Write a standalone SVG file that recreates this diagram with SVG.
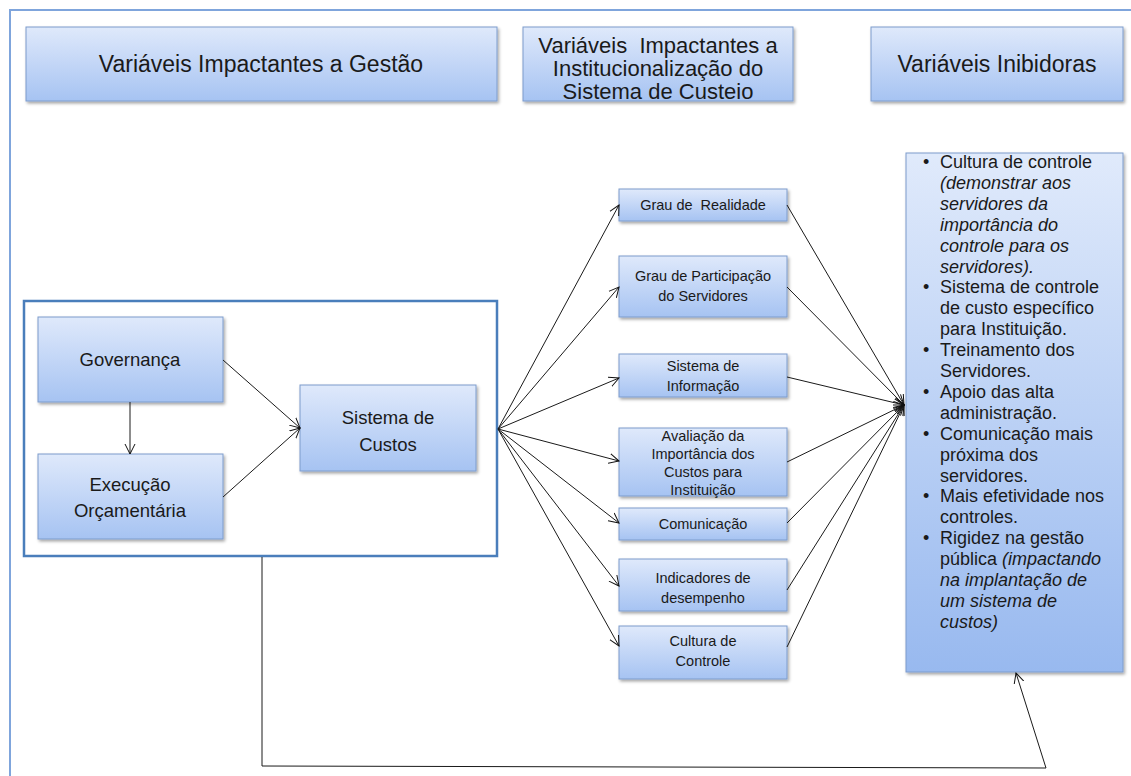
<svg xmlns="http://www.w3.org/2000/svg" width="1131" height="776" viewBox="0 0 1131 776">
<defs>
<linearGradient id="gNode" x1="0" y1="0" x2="0" y2="1">
<stop offset="0" stop-color="#dfe9fb"/>
<stop offset="1" stop-color="#a6c3f2"/>
</linearGradient>
<linearGradient id="gBig" x1="0" y1="0" x2="0" y2="1">
<stop offset="0" stop-color="#e0eafb"/>
<stop offset="1" stop-color="#98b9ef"/>
</linearGradient>
<filter id="sh" x="-10%" y="-10%" width="130%" height="140%">
<feDropShadow dx="1.5" dy="2" stdDeviation="1.5" flood-color="#000" flood-opacity="0.35"/>
</filter>
<marker id="arr" markerUnits="userSpaceOnUse" markerWidth="12" markerHeight="12" refX="10" refY="5" orient="auto" viewBox="0 0 12 10">
<path d="M0,0 L10,5 L0,10" fill="none" stroke="#111" stroke-width="1"/>
</marker>
</defs>
<style>
.box{fill:url(#gNode);stroke:#7d9ccc;stroke-width:1;filter:url(#sh)}
.big{fill:url(#gBig);stroke:#7d9ccc;stroke-width:1;filter:url(#sh)}
.t{font-family:"Liberation Sans",Arial,sans-serif;fill:#1a1a1a;text-anchor:middle;white-space:pre}
.h{font-size:23px}
.h2{font-size:22px}
.l{font-size:18.5px}
.m{font-size:14.5px}
.r{font-family:"Liberation Sans",Arial,sans-serif;fill:#1a1a1a;font-size:18px}
.c{fill:none;stroke:#1a1a1a;stroke-width:1}
.ca{fill:none;stroke:#1a1a1a;stroke-width:1;marker-end:url(#arr)}
</style>
<rect x="0" y="0" width="1131" height="776" fill="#ffffff"/>
<rect x="10" y="10" width="1200" height="800" fill="none" stroke="#7fa5dc" stroke-width="2"/>

<g id="header1">
<rect class="box" x="26" y="27" width="471" height="74"/>
<text class="t h" x="261" y="72">Variáveis Impactantes a Gestão</text>
</g>
<g id="header2">
<rect class="box" x="523" y="27" width="270" height="74"/>
<text class="t h2" x="658" y="53" xml:space="preserve">Variáveis  Impactantes a</text>
<text class="t h2" x="658" y="76">Institucionalização do</text>
<text class="t h2" x="658" y="99">Sistema de Custeio</text>
</g>
<g id="header3">
<rect class="box" x="871" y="27" width="252" height="74"/>
<text class="t h" x="997" y="72">Variáveis Inibidoras</text>
</g>

<g id="container">
<rect x="24" y="301" width="473" height="255" fill="none" stroke="#4a7ebb" stroke-width="2.5"/>
</g>
<g id="governanca">
<rect class="box" x="38" y="317" width="185" height="85"/>
<text class="t l" x="130" y="366">Governança</text>
</g>
<g id="execucao">
<rect class="box" x="38" y="454" width="185" height="85"/>
<text class="t l" x="130" y="491">Execução</text>
<text class="t l" x="130" y="517">Orçamentária</text>
</g>
<g id="sistema-custos">
<rect class="box" x="300" y="385" width="176" height="86"/>
<text class="t l" x="388" y="424">Sistema de</text>
<text class="t l" x="388" y="451">Custos</text>
</g>

<g id="grau-realidade">
<rect class="box" x="619" y="189" width="168" height="32"/>
<text class="t m" x="703" y="210" xml:space="preserve">Grau de  Realidade</text>
</g>
<g id="grau-participacao">
<rect class="box" x="619" y="256" width="168" height="61"/>
<text class="t m" x="703" y="281">Grau de Participação</text>
<text class="t m" x="703" y="301">do Servidores</text>
</g>
<g id="sistema-informacao">
<rect class="box" x="619" y="354" width="168" height="43"/>
<text class="t m" x="703" y="371">Sistema de</text>
<text class="t m" x="703" y="391">Informação</text>
</g>
<g id="avaliacao">
<rect class="box" x="619" y="428" width="168" height="68"/>
<text class="t m" x="703" y="441">Avaliação da</text>
<text class="t m" x="703" y="459">Importância dos</text>
<text class="t m" x="703" y="477">Custos para</text>
<text class="t m" x="703" y="495">Instituição</text>
</g>
<g id="comunicacao">
<rect class="box" x="619" y="508" width="168" height="32"/>
<text class="t m" x="703" y="529">Comunicação</text>
</g>
<g id="indicadores">
<rect class="box" x="619" y="559" width="168" height="52"/>
<text class="t m" x="703" y="583">Indicadores de</text>
<text class="t m" x="703" y="603">desempenho</text>
</g>
<g id="cultura-controle">
<rect class="box" x="619" y="626" width="168" height="53"/>
<text class="t m" x="703" y="646">Cultura de</text>
<text class="t m" x="703" y="666">Controle</text>
</g>

<g id="inibidoras">
<rect class="big" x="906" y="153" width="217" height="519"/>
<g class="r">
<text x="923" y="168">•</text>
<text x="940" y="168">Cultura de controle</text>
<text x="940" y="189" font-style="italic">(demonstrar aos</text>
<text x="940" y="210" font-style="italic">servidores da</text>
<text x="940" y="231" font-style="italic">importância do</text>
<text x="940" y="252" font-style="italic">controle para os</text>
<text x="940" y="273" font-style="italic">servidores).</text>
<text x="923" y="293">•</text>
<text x="940" y="293">Sistema de controle</text>
<text x="940" y="314">de custo específico</text>
<text x="940" y="335">para Instituição.</text>
<text x="923" y="356">•</text>
<text x="940" y="356">Treinamento dos</text>
<text x="940" y="377">Servidores.</text>
<text x="923" y="398">•</text>
<text x="940" y="398">Apoio das alta</text>
<text x="940" y="419">administração.</text>
<text x="923" y="440">•</text>
<text x="940" y="440">Comunicação mais</text>
<text x="940" y="461">próxima dos</text>
<text x="940" y="482">servidores.</text>
<text x="923" y="502">•</text>
<text x="940" y="502">Mais efetividade nos</text>
<text x="940" y="523">controles.</text>
<text x="923" y="544">•</text>
<text x="940" y="544">Rigidez na gestão</text>
<text x="940" y="565">pública <tspan font-style="italic">(impactando</tspan></text>
<text x="940" y="586" font-style="italic">na implantação de</text>
<text x="940" y="607" font-style="italic">um sistema de</text>
<text x="940" y="628" font-style="italic">custos)</text>
</g>
</g>

<g id="connectors">
<line class="ca" x1="130" y1="402" x2="130" y2="454"/>
<line class="ca" x1="223" y1="360" x2="300" y2="428"/>
<line class="ca" x1="223" y1="497" x2="300" y2="428"/>
<line class="ca" x1="498" y1="429" x2="619" y2="205"/>
<line class="ca" x1="498" y1="429" x2="619" y2="287"/>
<line class="ca" x1="498" y1="429" x2="619" y2="378"/>
<line class="ca" x1="498" y1="429" x2="619" y2="461"/>
<line class="ca" x1="498" y1="429" x2="619" y2="523"/>
<line class="ca" x1="498" y1="429" x2="619" y2="586"/>
<line class="ca" x1="498" y1="429" x2="619" y2="646"/>
<line class="ca" x1="787" y1="205" x2="904" y2="405"/>
<line class="ca" x1="787" y1="287" x2="904" y2="405"/>
<line class="ca" x1="787" y1="377" x2="904" y2="405"/>
<line class="ca" x1="787" y1="462" x2="904" y2="405"/>
<line class="ca" x1="787" y1="523" x2="904" y2="405"/>
<line class="ca" x1="787" y1="590" x2="904" y2="405"/>
<line class="ca" x1="787" y1="647" x2="904" y2="405"/>
<polyline class="ca" points="262,557 262,766 1046,768 1016,673"/>
</g>
</svg>
